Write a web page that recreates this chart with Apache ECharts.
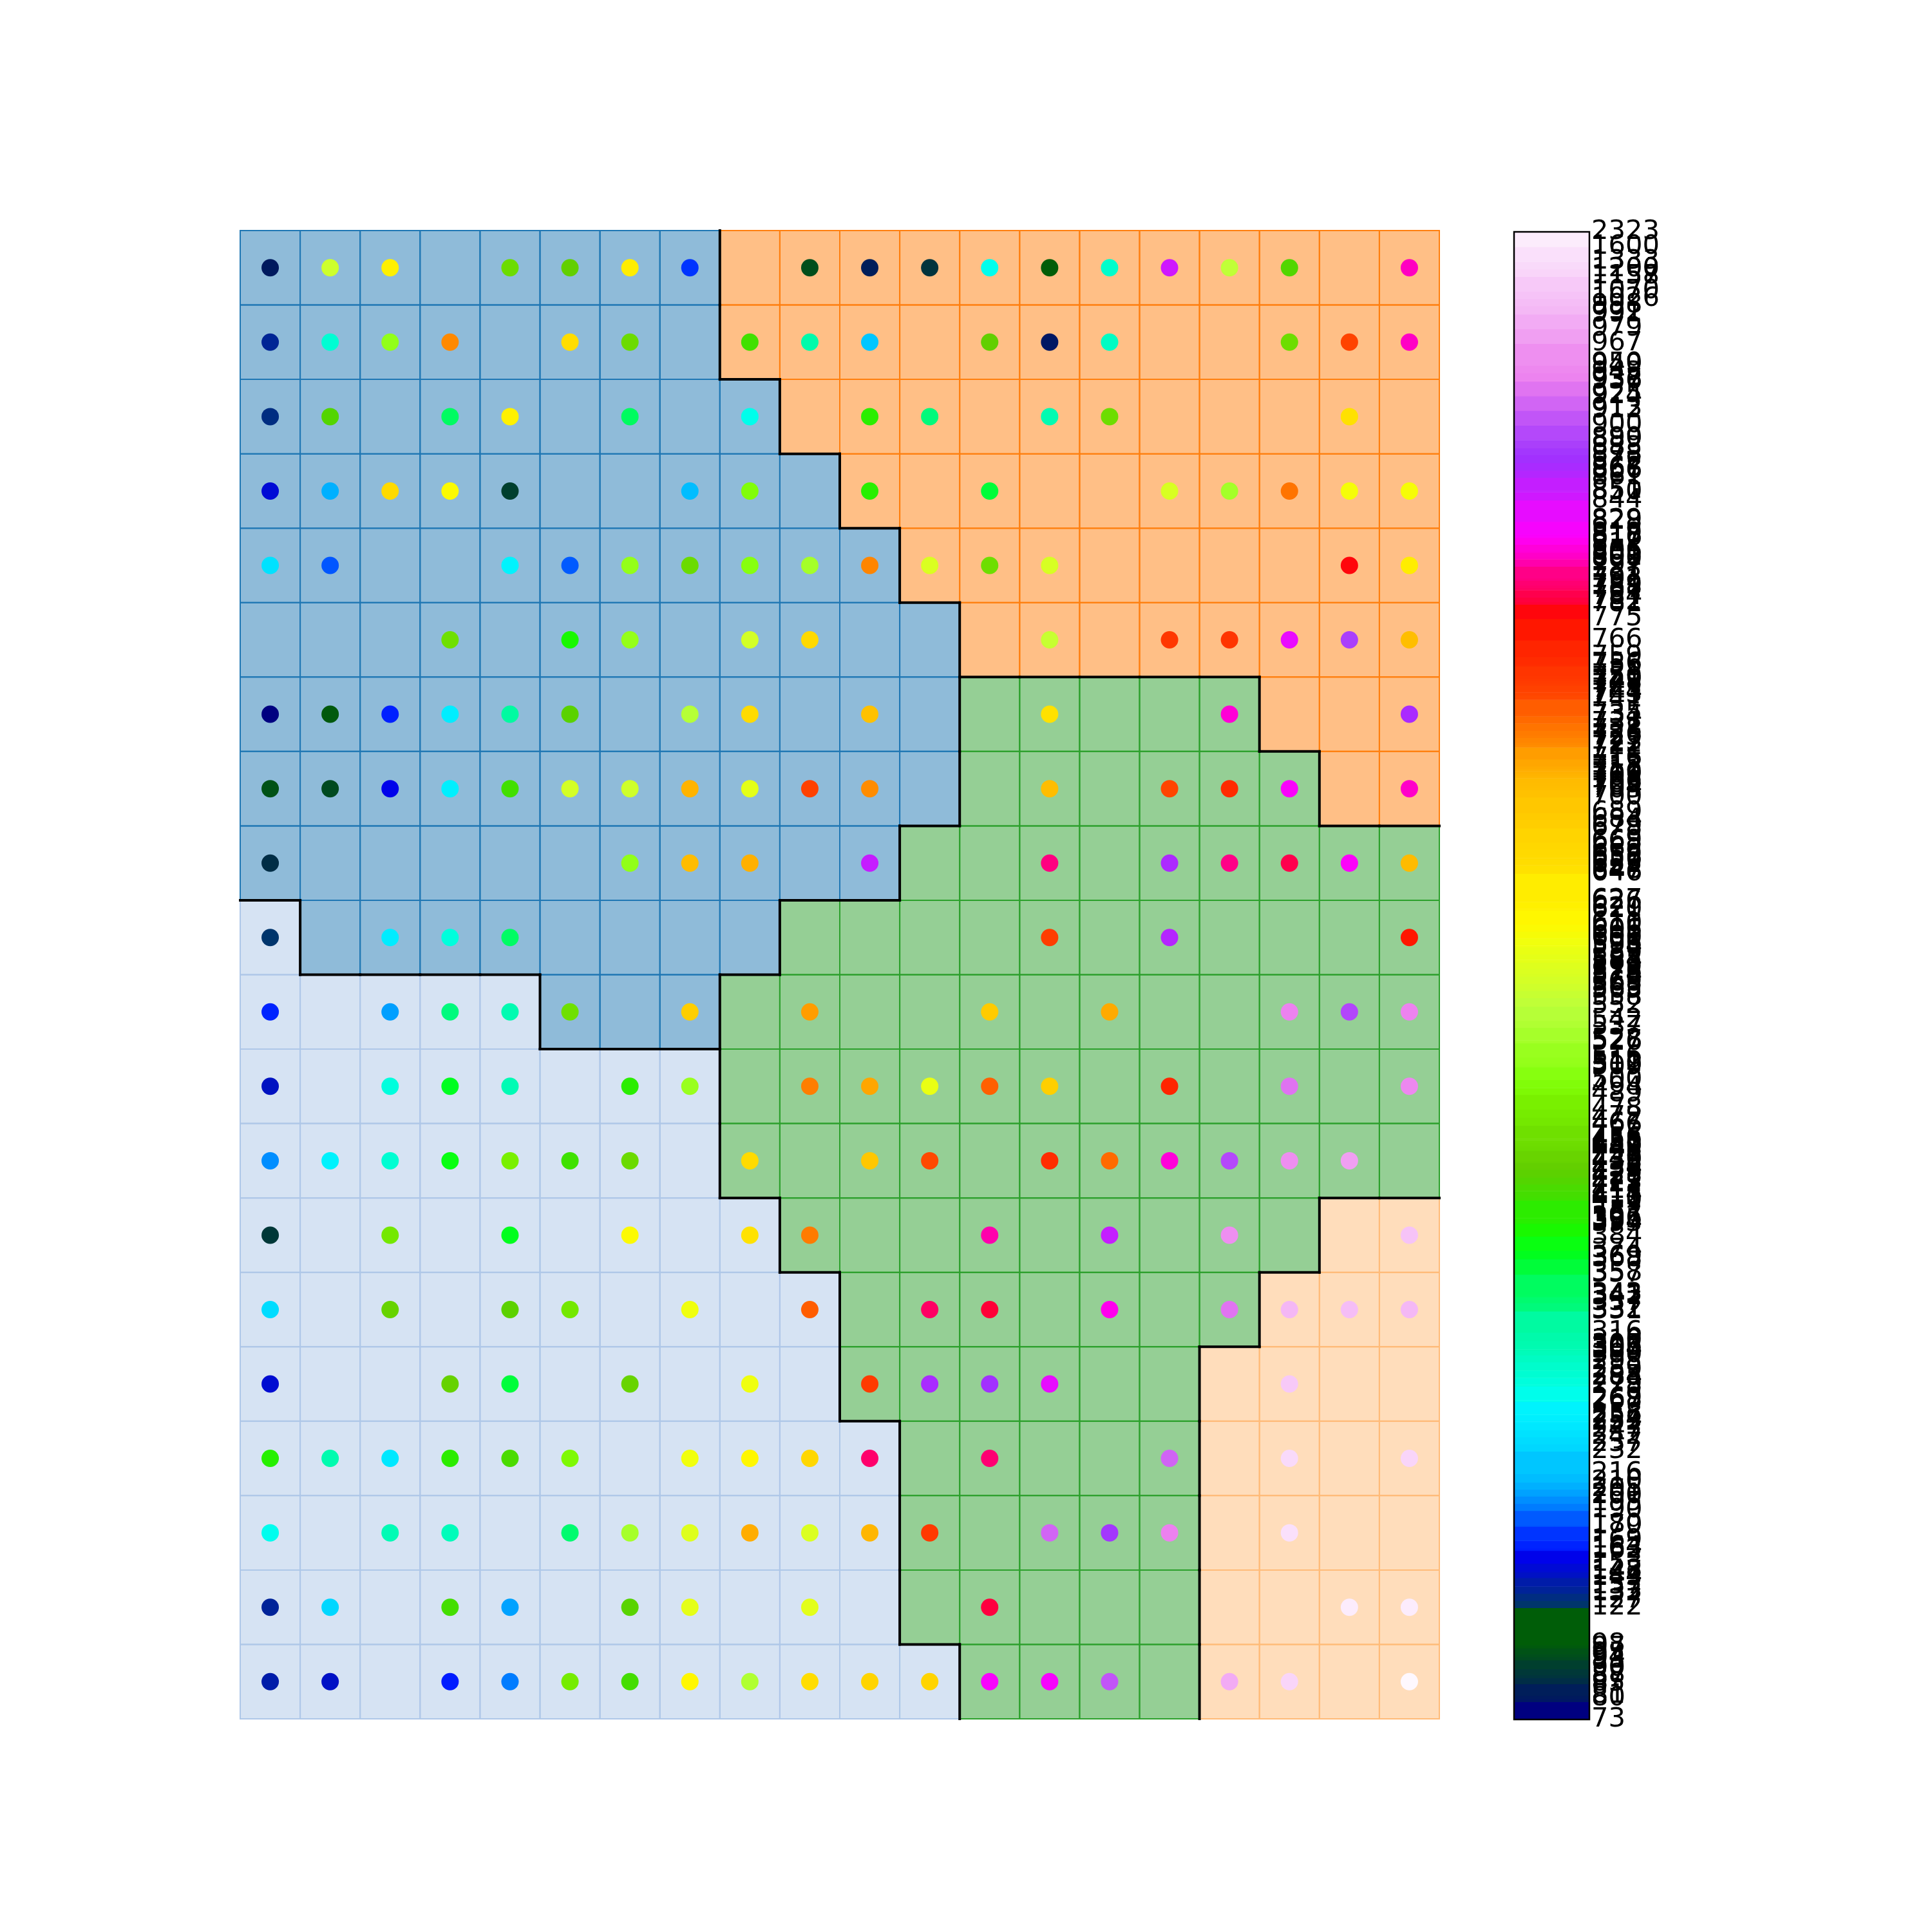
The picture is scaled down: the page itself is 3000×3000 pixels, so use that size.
<!DOCTYPE html>
<html><head><meta charset="utf-8">
<script src="https://cdn.jsdelivr.net/npm/echarts@6/dist/echarts.min.js"></script>
<style>html,body{margin:0;padding:0;background:#fff}#chart{width:3000px;height:3000px}</style>
</head><body><div id="chart"></div>
<script>
// ---- cluster map (B=blue, L=light blue, O=orange, P=light orange, G=green), row 0 = top
const regionRows = [
  "BBBBBBBBOOOOOOOOOOOO",
  "BBBBBBBBOOOOOOOOOOOO",
  "BBBBBBBBBOOOOOOOOOOO",
  "BBBBBBBBBBOOOOOOOOOO",
  "BBBBBBBBBBBOOOOOOOOO",
  "BBBBBBBBBBBBOOOOOOOO",
  "BBBBBBBBBBBBGGGGGOOO",
  "BBBBBBBBBBBBGGGGGGOO",
  "BBBBBBBBBBBGGGGGGGGG",
  "LBBBBBBBBGGGGGGGGGGG",
  "LLLLLBBBGGGGGGGGGGGG",
  "LLLLLLLLGGGGGGGGGGGG",
  "LLLLLLLLGGGGGGGGGGGG",
  "LLLLLLLLLGGGGGGGGGPP",
  "LLLLLLLLLLGGGGGGGPPP",
  "LLLLLLLLLLGGGGGGPPPP",
  "LLLLLLLLLLLGGGGGPPPP",
  "LLLLLLLLLLLGGGGGPPPP",
  "LLLLLLLLLLLGGGGGPPPP",
  "LLLLLLLLLLLLGGGGPPPP"
];
const regionColors = {B:'#1f77b4', L:'#aec7e8', O:'#ff7f0e', P:'#ffbb78', G:'#2ca02c'};

// ---- dots: columns and values per row (row 0 = top)
const dotColumns = [
  [0,1,2,4,5,6,7,9,10,11,12,13,14,15,16,17,19],
  [0,1,2,3,5,6,8,9,10,12,13,14,17,18,19],
  [0,1,3,4,6,8,10,11,13,14,18],
  [0,1,2,3,4,7,8,10,12,15,16,17,18,19],
  [0,1,4,5,6,7,8,9,10,11,12,13,18,19],
  [3,5,6,8,9,13,15,16,17,18,19],
  [0,1,2,3,4,5,7,8,10,13,16,19],
  [0,1,2,3,4,5,6,7,8,9,10,13,15,16,17,19],
  [0,6,7,8,10,13,15,16,17,18,19],
  [0,2,3,4,13,15,19],
  [0,2,3,4,5,7,9,12,14,17,18,19],
  [0,2,3,4,6,7,9,10,11,12,13,15,17,19],
  [0,1,2,3,4,5,6,8,10,11,13,14,15,16,17,18],
  [0,2,4,6,8,9,12,14,16,19],
  [0,2,4,5,7,9,11,12,14,16,17,18,19],
  [0,3,4,6,8,10,11,12,13,17],
  [0,1,2,3,4,5,7,8,9,10,12,15,17,19],
  [0,2,3,5,6,7,8,9,10,11,13,14,15,17],
  [0,1,3,4,6,7,9,12,18,19],
  [0,1,3,4,5,6,7,8,9,10,11,12,13,14,16,17,19]
];
const dotValues = [
  [80,563,621,450,433,626,169,94,81,87,268,98,289,844,552,422,800],
  [132,284,510,722,653,449,411,310,216,434,79,295,451,744,801],
  [127,423,342,620,343,269,395,332,305,452,647],
  [148,205,658,605,90,210,494,394,358,574,526,728,600,601],
  [242,179,258,180,511,448,500,527,723,575,453,573,775,627],
  [455,384,512,568,659,558,750,751,828,883,703],
  [73,97,163,253,316,428,542,657,700,648,805,867],
  [95,93,153,254,412,569,565,709,584,745,721,704,743,756,817,802],
  [85,509,705,710,850,791,866,792,784,816,706],
  [122,252,279,341,747,861,766],
  [164,200,331,306,456,679,716,684,712,937,889,938],
  [143,278,368,304,396,516,725,713,589,734,678,759,924,943],
  [195,257,285,374,478,410,447,656,689,741,755,731,806,890,949,967],
  [88,467,369,606,646,726,797,851,950,1026],
  [237,439,429,466,595,735,787,781,811,925,991,998,992],
  [147,438,357,440,594,748,868,872,829,1070],
  [393,307,247,397,417,489,596,610,663,788,789,912,1200,1157],
  [267,303,300,337,528,579,711,576,708,749,913,878,936,1333],
  [133,232,413,201,427,585,583,782,1600,1612],
  [137,144,162,190,472,414,611,537,652,668,669,818,819,900,979,1158,2323]
];

// ---- colour scale: value -> position on the colour bar (piecewise linear)
const normValues = [73,100,200,300,400,500,600,700,800,900,1000,1200,1600,2323];
const normStops  = [0,0.054,0.15,0.245,0.34,0.43,0.525,0.62,0.78,0.87,0.952,0.975,0.99,1];

// ---- gist_ncar colormap definition
const NCAR = {
  r: [[0,0],[0.3098,0],[0.3725,0.3993],[0.4235,0.5003],[0.5333,1],[0.7922,1],[0.8471,0.6218],[0.898,0.9235],[1,0.9961]],
  g: [[0,0],[0.051,0.3722],[0.1059,0],[0.1569,0.7202],[0.1608,0.7537],[0.1647,0.7752],[0.2157,1],[0.2588,0.9804],[0.2706,0.9804],[0.3176,1],[0.3686,0.8081],[0.4275,1],[0.5216,1],[0.6314,0.7292],[0.6863,0.2796],[0.7451,0],[0.7922,0],[0.8431,0.1753],[0.898,0.5],[1,0.9725]],
  b: [[0,0.502],[0.051,0.0222],[0.1098,1],[0.2039,1],[0.2627,0.6145],[0.3216,0],[0.4157,0],[0.4745,0.2342],[0.5333,0],[0.5804,0],[0.6314,0],[0.6902,0],[0.7373,0],[0.7922,0.9738],[0.8,1],[0.8431,1],[0.898,0.9341],[1,0.9961]]
};
function segInterp(arr, x){
  for (let i = 1; i < arr.length; i++) {
    if (x <= arr[i][0]) { const t = (x - arr[i-1][0]) / (arr[i][0] - arr[i-1][0]); return arr[i-1][1] + t * (arr[i][1] - arr[i-1][1]); }
  }
  return arr[arr.length-1][1];
}
function ncar(x){ return 'rgb(' + [segInterp(NCAR.r,x), segInterp(NCAR.g,x), segInterp(NCAR.b,x)].map(v => Math.round(v*255)).join(',') + ')'; }
const cmapColors = []; for (let i = 0; i <= 200; i++) cmapColors.push(ncar(i/200));
function norm(v){
  let p = 1;
  for (let i = 1; i < normValues.length; i++) {
    if (v <= normValues[i]) { p = normStops[i-1] + (v - normValues[i-1]) / (normValues[i] - normValues[i-1]) * (normStops[i] - normStops[i-1]); break; }
  }
  return Math.round(Math.min(1, Math.max(0, p)) * 1e9) / 1e9;
}
function withAlpha(hex, a){ const n = parseInt(hex.slice(1),16); return 'rgba(' + (n>>16) + ',' + ((n>>8)&255) + ',' + (n&255) + ',' + a + ')'; }

// ---- build series data
const regionKeys = ['B','L','O','P','G'];
const cellData = [];
regionRows.forEach((row, r) => { for (let c = 0; c < row.length; c++) cellData.push([c, r, regionKeys.indexOf(row[c])]); });
const borderData = [];
for (let r = 0; r < 20; r++) for (let c = 0; c < 20; c++) {
  const k = regionRows[r][c];
  if (c < 19 && regionRows[r][c+1] !== k) borderData.push([c+1, r, c+1, r+1]);
  if (r < 19 && regionRows[r+1][c] !== k) borderData.push([c, r+1, c+1, r+1]);
}
const dotData = [];
dotColumns.forEach((cols, r) => cols.forEach((c, k) => { const v = dotValues[r][k]; dotData.push([c + 0.5, r + 0.5, v, norm(v)]); }));

// colour bar ticks = the distinct dot values
const colorbarTicks = Array.from(new Set(dotValues.flat())).sort((a,b) => a-b);
const tickPos = colorbarTicks.map(norm);
const tickLabelMap = new Map();
tickPos.forEach((p, i) => tickLabelMap.set(p.toFixed(6), String(colorbarTicks[i])));
const bandData = [];
for (let i = 0; i < tickPos.length - 1; i++) bandData.push([tickPos[i], tickPos[i+1]]);

const chart = echarts.init(document.getElementById('chart'), null, {renderer:'canvas'});
chart.setOption({
  animation: false,
  backgroundColor: '#ffffff',
  grid: [
    {left: 373, top: 358, width: 1862, height: 2311},
    {left: 2351, top: 360, width: 117, height: 2310}
  ],
  xAxis: [
    {gridIndex:0, type:'value', min:0, max:20, show:false},
    {gridIndex:1, type:'value', min:0, max:1, show:false}
  ],
  yAxis: [
    {gridIndex:0, type:'value', min:0, max:20, inverse:true, show:false},
    {gridIndex:1, type:'value', min:0, max:1, position:'right',
     axisLine:{show:false}, axisTick:{show:false}, splitLine:{show:false},
     axisLabel:{customValues: tickPos, showMinLabel: true, showMaxLabel: true, hideOverlap: false,
       margin: 3, fontSize: 41.67, fontFamily: 'DejaVu Sans', color: '#000',
       formatter: v => tickLabelMap.get(Number(v).toFixed(6)) || ''}}
  ],
  visualMap: [
    {type:'continuous', show:false, seriesIndex:2, dimension:3, min:0, max:1, inRange:{color: cmapColors}},
    {type:'continuous', show:false, seriesIndex:3, dimension:0, min:0, max:1, inRange:{color: cmapColors}}
  ],
  series: [
    {type:'custom', xAxisIndex:0, yAxisIndex:0, data: cellData, encode:{x:0, y:1}, silent:true,
     renderItem: (params, api) => {
       const c = api.value(0), r = api.value(1), col = regionColors[regionKeys[api.value(2)]];
       const p0 = api.coord([c, r]), p1 = api.coord([c+1, r+1]);
       return {type:'rect', shape:{x:p0[0], y:p0[1], width:p1[0]-p0[0], height:p1[1]-p0[1]},
               style:{fill: withAlpha(col, 0.5), stroke: col, lineWidth: 2}};
     }},
    {type:'custom', xAxisIndex:0, yAxisIndex:0, data: borderData, encode:{x:[0,2], y:[1,3]}, silent:true, z:3,
     renderItem: (params, api) => {
       const a = api.coord([api.value(0), api.value(1)]), b = api.coord([api.value(2), api.value(3)]);
       return {type:'line', shape:{x1:a[0], y1:a[1], x2:b[0], y2:b[1]}, style:{stroke:'#000', lineWidth:4, lineCap:'square'}};
     }},
    {type:'scatter', xAxisIndex:0, yAxisIndex:0, data: dotData, symbol:'circle', symbolSize: 27, z:4,
     itemStyle:{opacity:1}},
    {type:'custom', xAxisIndex:1, yAxisIndex:1, data: bandData, encode:{y:[0,1]}, silent:true,
     renderItem: (params, api) => {
       const p0 = api.coord([0, api.value(0)]), p1 = api.coord([1, api.value(1)]);
       return {type:'rect', shape:{x:p0[0], y:p1[1], width:p1[0]-p0[0], height:p0[1]-p1[1]+0.6},
               style:{fill: api.visual('color')}};
     }},
    {type:'custom', xAxisIndex:1, yAxisIndex:1, data: [[0,0]], silent:true, z:5,
     renderItem: (params, api) => {
       const p0 = api.coord([0, 0]), p1 = api.coord([1, 1]);
       return {type:'rect', shape:{x:p0[0], y:p1[1], width:p1[0]-p0[0], height:p0[1]-p1[1]},
               style:{fill:'none', stroke:'#000', lineWidth:2.5}};
     }}
  ]
});
</script></body></html>
